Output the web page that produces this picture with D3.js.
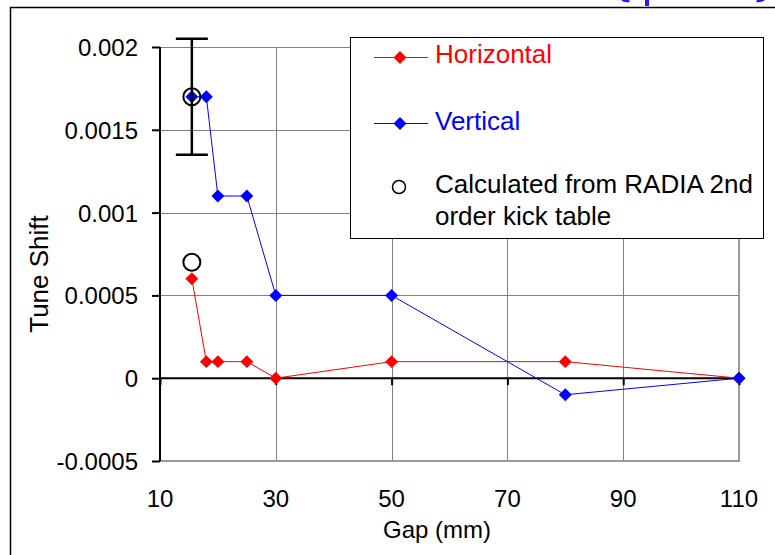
<!DOCTYPE html>
<html>
<head>
<meta charset="utf-8">
<script src="https://cdn.jsdelivr.net/npm/d3@7"></script>
<style>
  html, body { margin: 0; padding: 0; background: #fff; }
  svg { display: block; font-family: "Liberation Sans", Arial, sans-serif; }
</style>
</head>
<body>
<svg id="chart" width="775" height="555"></svg>
<script>
// Gap (mm) at which the tune shift was measured
const gaps = [15.5, 18, 20, 25, 30, 50, 80, 110];
// Measured tune shift per plane
const horizontal = [0.0006, 0.0001, 0.0001, 0.0001, 0, 0.0001, 0.0001, 0];
const vertical = [0.0017, 0.0017, 0.0011, 0.0011, 0.0005, 0.0005, -0.0001, 0];
// Values calculated from the RADIA 2nd order kick table
const radiaGap = [15.5, 15.5];
const radiaShift = [0.0017, 0.0007];
const radiaErrLow = [0.00135, null];
const radiaErrHigh = [0.00205, null];
// Axis ticks
const xTicks = [10, 30, 50, 70, 90, 110];
const yTicks = [-0.0005, 0, 0.0005, 0.001, 0.0015, 0.002];
const yTickLabels = ["-0.0005", "0", "0.0005", "0.001", "0.0015", "0.002"];

const svg = d3.select("#chart");
const TICK_FONT = 24;
const TITLE_FONT = 24;
const LEGEND_FONT = 26;

const x = d3.scaleLinear().domain([10, 110]).range([160, 739]);
const y = d3.scaleLinear().domain([-0.0005, 0.002]).range([461, 47]);

// outer frame of the slide panel
svg.append("path")
  .attr("d", "M10.5,560 V7.5 H780")
  .attr("fill", "none").attr("stroke", "#000").attr("stroke-width", 1.5);

// fragments of a heading above the panel
const frag = svg.append("g").attr("fill", "#1a1aff").attr("stroke", "none");
frag.append("path").attr("d", "M621,0 Q624,3 630,2 L629,0 Z");
frag.append("rect").attr("x", 645).attr("y", 0).attr("width", 4).attr("height", 6);
frag.append("path").attr("d", "M765,0 Q762,3 756,2 L757,0 Z");

// grid
const grid = svg.append("g").attr("stroke", "#808080").attr("stroke-width", 1);
grid.selectAll("line.v").data(xTicks.filter(d => d > 10)).join("line")
  .attr("x1", d => Math.round(x(d)) + 0.5).attr("x2", d => Math.round(x(d)) + 0.5)
  .attr("y1", y(0.002)).attr("y2", y(-0.0005));
grid.selectAll("line.h").data(yTicks).join("line")
  .attr("x1", x(10)).attr("x2", x(110))
  .attr("y1", d => Math.round(y(d)) + 0.5).attr("y2", d => Math.round(y(d)) + 0.5);

// plot area border (right and bottom)
svg.append("path")
  .attr("d", `M${x(110)},${y(0.002)} V${y(-0.0005)} H${x(10)}`)
  .attr("fill", "none").attr("stroke", "#9a9a9a").attr("stroke-width", 2);

// y axis
const yAxis = d3.axisLeft(y).tickValues(yTicks).tickSize(8)
  .tickFormat((d, i) => yTickLabels[i]);
const gy = svg.append("g").attr("transform", `translate(${x(10)},0)`).call(yAxis);
gy.select(".domain").attr("stroke", "#000").attr("stroke-width", 2)
  .attr("d", `M0,${y(0.002)}V${y(-0.0005)}`);
gy.selectAll(".tick line").attr("stroke", "#000").attr("stroke-width", 2);
gy.selectAll(".tick text").attr("font-size", TICK_FONT).attr("fill", "#000")
  .attr("font-family", "Liberation Sans, Arial, sans-serif").attr("x", -22).attr("dy", "0.35em");

// x axis line at zero with downward ticks
const xAxis = d3.axisBottom(x).tickValues(xTicks).tickSize(7).tickFormat("");
const gx = svg.append("g").attr("transform", `translate(0,${y(0)})`).call(xAxis);
gx.select(".domain").attr("stroke", "#000").attr("stroke-width", 2)
  .attr("d", `M${x(10)},0H${x(110)}`);
gx.selectAll(".tick line").attr("stroke", "#000").attr("stroke-width", 2);

// x tick labels below the plot area
svg.append("g").selectAll("text").data(xTicks).join("text")
  .attr("x", d => x(d)).attr("y", 507)
  .attr("text-anchor", "middle").attr("font-size", TICK_FONT).attr("fill", "#000")
  .text(d => d);

// axis titles
svg.append("text").attr("x", 437).attr("y", 538).attr("text-anchor", "middle")
  .attr("font-size", TITLE_FONT).attr("fill", "#000").text("Gap (mm)");
svg.append("text").attr("transform", "translate(48,274) rotate(-90)")
  .attr("text-anchor", "middle").attr("font-size", 26).attr("fill", "#000").text("Tune Shift");

// series
const line = d3.line().x(d => x(d[0])).y(d => y(d[1]));
const diamond = d3.symbol().type(d3.symbolSquare).size(84);

function drawSeries(vals, color) {
  const pts = gaps.map((g, i) => [g, vals[i]]);
  svg.append("path").datum(pts).attr("d", line)
    .attr("fill", "none").attr("stroke", color).attr("stroke-width", 1);
  svg.append("g").selectAll("path").data(pts).join("path")
    .attr("d", diamond)
    .attr("transform", d => `translate(${x(d[0])},${y(d[1])}) rotate(45)`)
    .attr("fill", color);
}
drawSeries(horizontal, "#ff0000");
drawSeries(vertical, "#0000ff");

// RADIA points with error bar
const radia = radiaGap.map((g, i) => ({ g, v: radiaShift[i], lo: radiaErrLow[i], hi: radiaErrHigh[i] }));
const eb = svg.append("g").attr("stroke", "#000").attr("stroke-width", 2.5);
radia.filter(d => d.lo !== null).forEach(d => {
  eb.append("line").attr("x1", x(d.g)).attr("x2", x(d.g)).attr("y1", y(d.hi)).attr("y2", y(d.lo));
  eb.append("line").attr("x1", x(d.g) - 16).attr("x2", x(d.g) + 16).attr("y1", y(d.hi)).attr("y2", y(d.hi));
  eb.append("line").attr("x1", x(d.g) - 16).attr("x2", x(d.g) + 16).attr("y1", y(d.lo)).attr("y2", y(d.lo));
});
svg.append("g").selectAll("circle").data(radia).join("circle")
  .attr("cx", d => x(d.g)).attr("cy", d => y(d.v)).attr("r", 8.5)
  .attr("fill", "none").attr("stroke", "#000").attr("stroke-width", 2);

// legend
const lg = svg.append("g");
lg.append("rect").attr("x", 350.5).attr("y", 37.5).attr("width", 413).attr("height", 201)
  .attr("fill", "#fff").attr("stroke", "#000").attr("stroke-width", 1);
const legendItems = [
  { label: "Horizontal", color: "#ff0000", y: 57.5, base: 63 },
  { label: "Vertical", color: "#0000ff", y: 123.5, base: 130 }
];
legendItems.forEach(it => {
  lg.append("line").attr("x1", 374).attr("x2", 428).attr("y1", it.y).attr("y2", it.y)
    .attr("stroke", it.color).attr("stroke-width", 1);
  lg.append("path").attr("d", diamond).attr("transform", `translate(400,${it.y}) rotate(45)`).attr("fill", it.color);
  lg.append("text").attr("x", 435).attr("y", it.base).attr("font-size", LEGEND_FONT)
    .attr("fill", it.color).text(it.label);
});
lg.append("circle").attr("cx", 399).attr("cy", 187).attr("r", 6.5)
  .attr("fill", "none").attr("stroke", "#000").attr("stroke-width", 1.5);
lg.append("text").attr("x", 435).attr("y", 193).attr("font-size", LEGEND_FONT).attr("fill", "#000")
  .text("Calculated from RADIA 2nd");
lg.append("text").attr("x", 435).attr("y", 225).attr("font-size", LEGEND_FONT).attr("fill", "#000")
  .text("order kick table");
</script>
</body>
</html>
